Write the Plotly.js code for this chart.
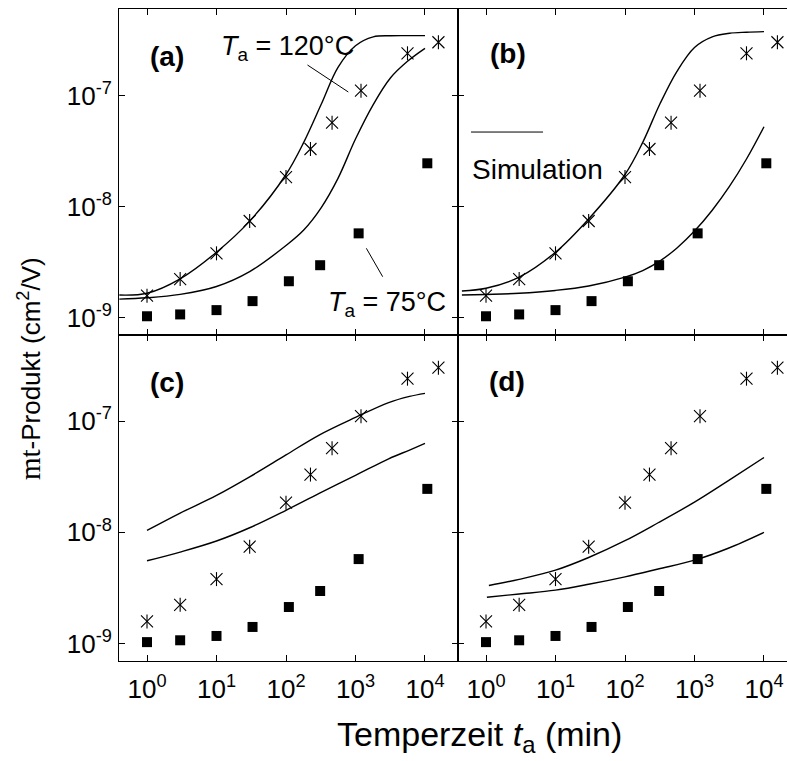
<!DOCTYPE html>
<html>
<head>
<meta charset="utf-8">
<script src="https://cdn.plot.ly/plotly-3.0.1.min.js"></script>
<style>
html,body{margin:0;padding:0;overflow:hidden;background:#fff;}
#chart{width:800px;height:761px;}
</style>
</head>
<body>
<div id="chart"></div>
<script>
// Measured data (mt-product in cm^2/V vs annealing time in min)
const starX = [1, 3, 10, 30, 100, 225, 460, 1200, 5600, 15600];      // T_a = 120°C
const starY = [1.58e-9, 2.23e-9, 3.80e-9, 7.43e-9, 1.85e-8, 3.31e-8, 5.71e-8, 1.11e-7, 2.41e-7, 3.03e-7];
const sqX = [1, 3, 10, 33, 110, 310, 1110, 10800];                   // T_a = 75°C
const sqY = [1.03e-9, 1.07e-9, 1.17e-9, 1.41e-9, 2.13e-9, 2.97e-9, 5.75e-9, 2.46e-8];

// Simulation curves
const simXa = [0.4, 1, 3, 10, 30, 100, 180, 320, 560, 1000, 1800, 3200, 5600, 10000];
const simA1 = [1.60e-9, 1.66e-9, 2.24e-9, 3.89e-9, 7.41e-9, 1.95e-8, 3.80e-8, 8.32e-8, 1.80e-7, 2.82e-7, 3.39e-7, 3.47e-7, 3.48e-7, 3.48e-7];
const simA2 = [1.47e-9, 1.51e-9, 1.62e-9, 1.91e-9, 2.60e-9, 4.47e-9, 6.17e-9, 9.77e-9, 1.80e-8, 4.07e-8, 8.32e-8, 1.45e-7, 2.04e-7, 2.67e-7];
const simXb = [0.45, 1, 3, 10, 30, 100, 180, 320, 560, 1000, 1800, 3200, 5600, 10000];
const simB1 = [1.74e-9, 1.84e-9, 2.32e-9, 3.89e-9, 7.76e-9, 1.95e-8, 3.80e-8, 8.51e-8, 1.66e-7, 2.72e-7, 3.39e-7, 3.65e-7, 3.73e-7, 3.78e-7];
const simB2 = [1.60e-9, 1.62e-9, 1.66e-9, 1.76e-9, 1.93e-9, 2.32e-9, 2.66e-9, 3.25e-9, 4.25e-9, 6.03e-9, 9.29e-9, 1.53e-8, 2.69e-8, 5.25e-8];
const simXc = [1, 3, 10, 30, 100, 300, 1000, 3000, 6000, 10000];
const simC1 = [1.04e-8, 1.49e-8, 2.15e-8, 3.16e-8, 4.97e-8, 7.50e-8, 1.08e-7, 1.47e-7, 1.67e-7, 1.78e-7];
const simC2 = [5.55e-9, 6.65e-9, 8.36e-9, 1.10e-8, 1.58e-8, 2.24e-8, 3.25e-8, 4.59e-8, 5.50e-8, 6.31e-8];
const simXd1 = [1.1, 3, 10, 30, 100, 300, 1000, 3000, 10000];
const simD1 = [3.33e-9, 3.78e-9, 4.57e-9, 5.94e-9, 8.41e-9, 1.22e-8, 1.87e-8, 2.89e-8, 4.71e-8];
const simXd2 = [1.03, 3, 10, 30, 100, 300, 1000, 3000, 10000];
const simD2 = [2.61e-9, 2.79e-9, 3.02e-9, 3.41e-9, 3.98e-9, 4.68e-9, 5.62e-9, 7.16e-9, 1.00e-8];

const xTickVals = [1, 10, 100, 1000, 10000];
const xTickText = ['10<sup>0</sup>', '10<sup>1</sup>', '10<sup>2</sup>', '10<sup>3</sup>', '10<sup>4</sup>'];
const yTickVals = [1e-9, 1e-8, 1e-7];
const yTickText = ['10<sup>-9</sup>', '10<sup>-8</sup>', '10<sup>-7</sup>'];

const FONT = 'Liberation Sans, Arial, Helvetica, sans-serif';

const panels = [
  {xa: 'x', ya: 'y', sims: [[simXa, simA1], [simXa, simA2]]},
  {xa: 'x2', ya: 'y2', sims: [[simXb, simB1], [simXb, simB2]]},
  {xa: 'x3', ya: 'y3', sims: [[simXc, simC1], [simXc, simC2]]},
  {xa: 'x4', ya: 'y4', sims: [[simXd1, simD1], [simXd2, simD2]]}
];

const traces = [];
panels.forEach(p => {
  p.sims.forEach(s => {
    traces.push({x: s[0], y: s[1], xaxis: p.xa, yaxis: p.ya, mode: 'lines',
      line: {color: '#000', width: 1.4, shape: 'spline', smoothing: 1}, hoverinfo: 'skip'});
  });
  traces.push({x: sqX, y: sqY, xaxis: p.xa, yaxis: p.ya, mode: 'markers',
    marker: {symbol: 'square', size: 10, color: '#000'}, cliponaxis: false});
  traces.push({x: starX, y: starY, xaxis: p.xa, yaxis: p.ya, mode: 'markers',
    marker: {symbol: 'x-thin-open', size: 12, color: '#000', line: {width: 1.1, color: '#000'}}, cliponaxis: false});
  traces.push({x: starX, y: starY, xaxis: p.xa, yaxis: p.ya, mode: 'markers',
    marker: {symbol: 'line-ns-open', size: 10, color: '#000', line: {width: 1.1, color: '#000'}}, cliponaxis: false});
});

function xAx(dom, anchor, labels) {
  return {domain: dom, anchor: anchor, type: 'log', range: [-0.403, 4.475],
    tickvals: xTickVals, ticktext: xTickText, showticklabels: labels,
    ticks: 'inside', ticklen: 6, tickwidth: 1, tickcolor: '#000',
    showline: true, linecolor: '#000', linewidth: 1, mirror: 'ticks',
    showgrid: false, zeroline: false, ticklabelstandoff: 5,
    tickfont: {family: FONT, size: 26, color: '#000'}};
}
function yAx(dom, anchor, labels, range) {
  return {domain: dom, anchor: anchor, type: 'log', range: range,
    tickvals: yTickVals, ticktext: yTickText, showticklabels: labels,
    ticks: 'inside', ticklen: 6, tickwidth: 1, tickcolor: '#000',
    showline: true, linecolor: '#000', linewidth: 1, mirror: 'ticks',
    showgrid: false, zeroline: false, ticklabelstandoff: 1,
    tickfont: {family: FONT, size: 26, color: '#000'}};
}

function ann(text, x, y, size, extra) {
  return Object.assign({text: text, xref: 'paper', yref: 'paper', x: x, y: y,
    xanchor: 'left', yanchor: 'middle', showarrow: false,
    font: {family: FONT, size: size, color: '#000'}}, extra || {});
}

const layout = {
  width: 800, height: 761,
  margin: {l: 119, r: 3, t: 9, b: 100},
  paper_bgcolor: '#fff', plot_bgcolor: '#fff',
  showlegend: false,
  xaxis: xAx([0, 0.5], 'y', false),
  xaxis2: xAx([0.5, 1], 'y2', false),
  xaxis3: xAx([0, 0.5], 'y3', true),
  xaxis4: xAx([0.5, 1], 'y4', true),
  yaxis: yAx([0.5, 1], 'x', true, [-9.156, -6.219]),
  yaxis2: yAx([0.5, 1], 'x2', false, [-9.156, -6.219]),
  yaxis3: yAx([0, 0.5], 'x3', true, [-9.157, -6.225]),
  yaxis4: yAx([0, 0.5], 'x4', false, [-9.157, -6.225]),
  shapes: [
    {type: 'line', xref: 'paper', yref: 'paper', x0: 0.2780, y0: 0.9141, x1: 0.3382, y1: 0.8727, line: {color: '#000', width: 1}},
    {type: 'line', xref: 'paper', yref: 'paper', x0: 0.3648, y0: 0.6330, x1: 0.3889, y1: 0.5894, line: {color: '#000', width: 1}},
    {type: 'line', xref: 'paper', yref: 'paper', x0: 0.5192, y0: 0.8113, x1: 0.6254, y1: 0.8113, line: {color: '#000', width: 1}}
  ],
  annotations: [
    ann('<b>(a)</b>', 0.043, 0.9279, 28),
    ann('<b>(b)</b>', 0.5440, 0.9310, 28),
    ann('<b>(c)</b>', 0.043, 0.4271, 28),
    ann('<b>(d)</b>', 0.5425, 0.4294, 28),
    ann('<i>T</i><sub>a</sub> = 120°C', 0.147, 0.940, 27),
    ann('<i>T</i><sub>a</sub> = 75°C', 0.306, 0.548, 27),
    ann('Simulation', 0.517, 0.7546, 28),
    ann('Temperzeit <i>t</i><sub>a</sub> (min)', 0.531, -0.116, 34, {xanchor: 'center'}),
    ann('<span style="font-family:Liberation Serif;font-size:29px">mt</span>-Produkt (cm<sup>2</sup>/V)', -0.131, 0.448, 26, {xanchor: 'center', textangle: -90})
  ]
};

Plotly.newPlot('chart', traces, layout, {displayModeBar: false, responsive: false});
</script>
</body>
</html>
